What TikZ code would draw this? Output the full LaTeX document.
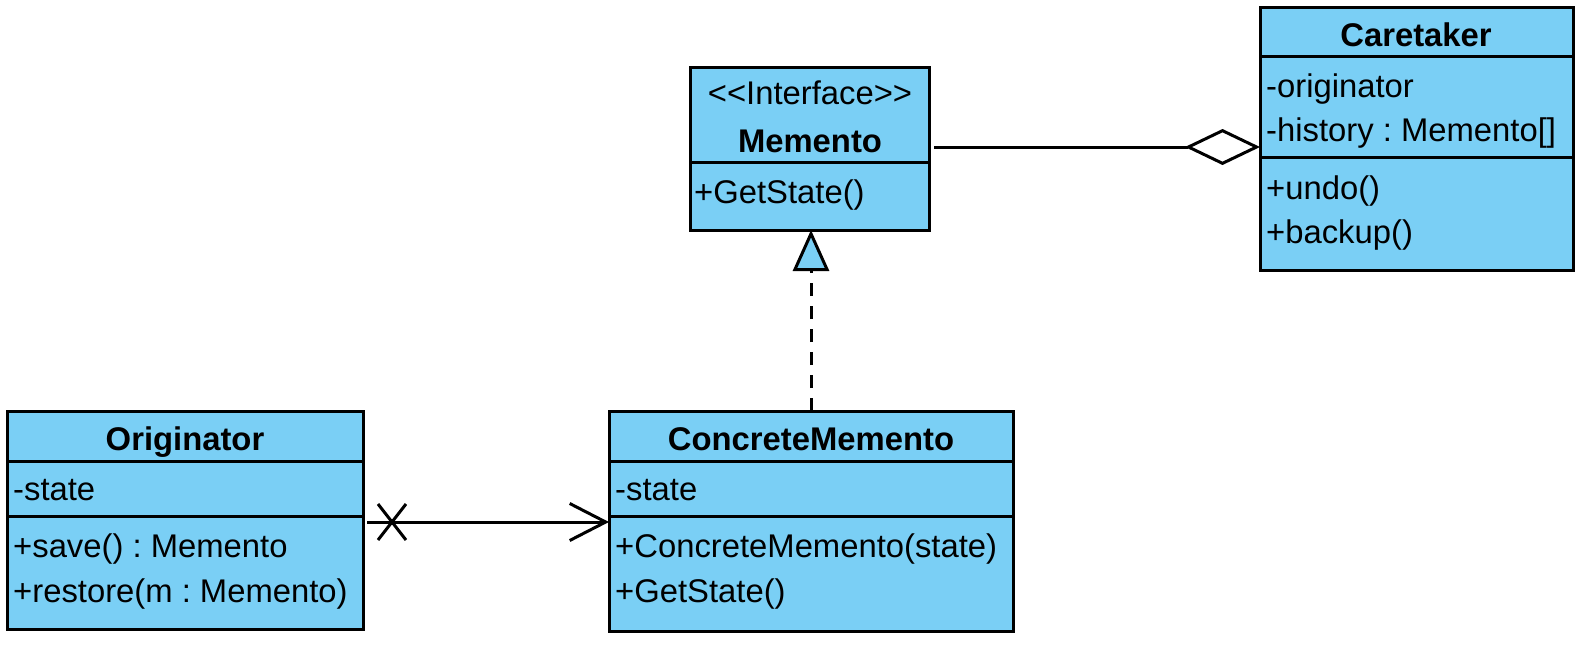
\documentclass[tikz,border=0pt]{standalone}
\usepackage{fontspec}
\setmainfont{Liberation Sans}
\usetikzlibrary{arrows.meta,calc}
\definecolor{umlblue}{RGB}{122,207,245}
\frenchspacing
\begin{document}
\begin{tikzpicture}[x=1pt,y=-1pt,
  cls/.style={draw=black, fill=umlblue, line width=3pt, anchor=north west, inner sep=0pt, outer sep=0pt},
  txt/.style={anchor=base west, inner sep=0pt, font=\fontsize{32.8pt}{39pt}\selectfont},
  ttl/.style={anchor=base, inner sep=0pt, font=\fontsize{32.8pt}{39pt}\selectfont\bfseries},
  sepline/.style={line width=3pt},
  conn/.style={line width=3pt}]
\useasboundingbox (0,0) rectangle (1584,645);

% boxes
\node[cls, minimum width=239pt, minimum height=163pt] (mem) at (690,67) {};
\node[cls, minimum width=313pt, minimum height=263pt] (car) at (1260,7) {};
\node[cls, minimum width=356pt, minimum height=218pt] (org) at (7,411) {};
\node[cls, minimum width=404pt, minimum height=220pt] (cm) at (609,411) {};

% dividers
\draw[sepline] (mem.west |- 0,162) -- (mem.east |- 0,162);
\draw[sepline] (car.west |- 0,56) -- (car.east |- 0,56);
\draw[sepline] (car.west |- 0,157) -- (car.east |- 0,157);
\draw[sepline] (org.west |- 0,461) -- (org.east |- 0,461);
\draw[sepline] (org.west |- 0,516) -- (org.east |- 0,516);
\draw[sepline] (cm.west |- 0,461) -- (cm.east |- 0,461);
\draw[sepline] (cm.west |- 0,516) -- (cm.east |- 0,516);

% Memento texts
\node[txt, anchor=base] (mst) at (810,104) {<\kern0pt<Interface>\kern0pt>};
\node[ttl] (mtt) at (810,152) {Memento};
\node[txt] (mop) at (694,203) {+GetState()};

% Caretaker texts
\node[ttl] (ctt) at (1416,46) {Caretaker};
\node[txt] (ca1) at (1266,97) {-originator};
\node[txt] (ca2) at (1266,141) {-history : Memento[]};
\node[txt] (co1) at (1266,199) {+undo()};
\node[txt] (co2) at (1266,243) {+backup()};

% Originator texts
\node[ttl] (ott) at (185,450) {Originator};
\node[txt] (oa1) at (13,500) {-state};
\node[txt] (oo1) at (13,557) {+save() : Memento};
\node[txt] (oo2) at (13,602) {+restore(m : Memento)};

% ConcreteMemento texts
\node[ttl] (ctt2) at (811,450) {ConcreteMemento};
\node[txt] (cma1) at (615,500) {-state};
\node[txt] (cmo1) at (615,557) {+ConcreteMemento(state)};
\node[txt] (cmo2) at (615,602) {+GetState()};

% aggregation
\draw[conn, -{Diamond[length=75pt, width=36pt, fill=white, line width=3pt]}]
  ($(mem.east |- 0,147)+(5,0)$) -- (car.west |- 0,147);

% realization
\draw[conn, dash pattern=on 13pt off 10pt,
  -{Triangle[length=41pt, width=36pt, fill=umlblue, line width=3pt]}]
  (cm.north) -- (cm.north |- mem.south);

% association
\coordinate (xm) at ($(org.east |- 0,522)+(29,0)$);
\draw[conn, -{Straight Barb[length=36pt, width=37pt, line width=3pt]}]
  ($(org.east |- 0,522)+(4,0)$) -- (cm.west |- 0,522);
\draw[conn] ($(xm)+(-14,-18)$) -- ($(xm)+(14,18)$)
  ($(xm)+(-14,18)$) -- ($(xm)+(14,-18)$);
\end{tikzpicture}
\end{document}
